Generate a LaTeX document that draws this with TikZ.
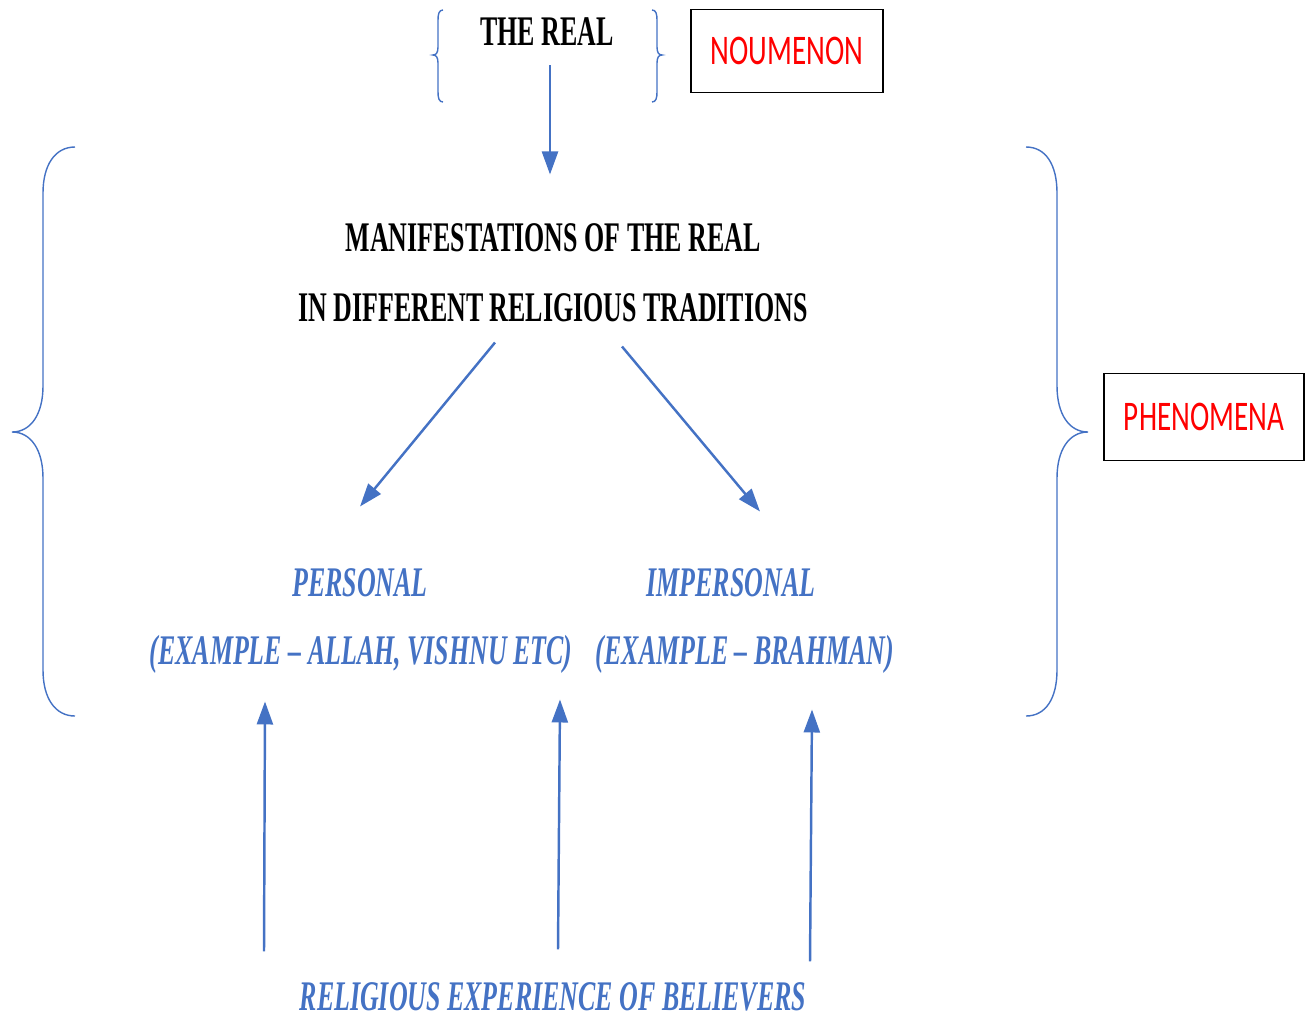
\documentclass[tikz,border=0pt]{standalone}
\usepackage{fontspec}
\setmainfont{Liberation Serif}
\newfontfamily\narrowserif[FakeStretch=0.615,Ligatures=TeX]{Liberation Serif}
\newfontfamily\narrowsans[FakeStretch=0.69]{Carlito}
\usepackage{tikz}
\usetikzlibrary{calc}
\usetikzlibrary{arrows.meta}
\usepackage{xcolor}
\definecolor{wordblue}{HTML}{4472C4}
\definecolor{wordred}{HTML}{FF0000}

\begin{document}
\begin{tikzpicture}[x=0.02cm,y=-0.02cm,
title/.style={font=\narrowserif\bfseries\fontsize{24}{28}\selectfont,inner sep=0pt},
form/.style={font=\narrowserif\bfseries\itshape\fontsize{24}{28}\selectfont,text=wordblue,inner sep=0pt},
realm/.style={draw=black,line width=1.1pt,font=\narrowsans\fontsize{24}{28}\selectfont,text=wordred},
arrow/.style={draw=wordblue,line width=1.4pt,-{Triangle[length=0.46cm,width=0.32cm]}},
brace/.style={draw=wordblue,line width=0.8pt}]
%\draw[help lines] (0,0) grid[step=100] (1311,1018);
\useasboundingbox (0,0) rectangle (1311,1018);

\node[title] (real) at (547,32) {THE REAL};
\node[realm,minimum width=3.84cm,minimum height=1.66cm] (noumenon) at (787,51) {NOUMENON};

\node[title] (manif1) at (553,238) {MANIFESTATIONS OF THE REAL};
\node[title] (manif2) at (553,308) {IN DIFFERENT RELIGIOUS TRADITIONS};
\node[realm,minimum width=4cm,minimum height=1.74cm] (phenomena) at (1204,417) {PHENOMENA};

\node[form] (personal) at (360,583) {PERSONAL};
\node[form] (impersonal) at (731,583) {IMPERSONAL};
\node[form] (ex1) at (361,654) {(EXAMPLE – ALLAH, VISHNU ETC)};
\node[form] (ex2) at (745,654) {(EXAMPLE – BRAHMAN)};

\node[form] (exp) at (553,997) {RELIGIOUS EXPERIENCE OF BELIEVERS};

% small brace round the real
\draw[brace] (443,10) .. controls (439,10) and (438,14) .. (438,20) -- (438,47)
  .. controls (438,53) and (436,55) .. (433,55) .. controls (436,55) and (438,57) .. (438,63)
  -- (438,92) .. controls (438,98) and (439,102) .. (443,102);
\draw[brace] (652,10) .. controls (656,10) and (657,14) .. (657,20) -- (657,47)
  .. controls (657,53) and (659,55) .. (662,55) .. controls (659,55) and (657,57) .. (657,63)
  -- (657,92) .. controls (657,98) and (656,102) .. (652,102);

% big braces round the phenomena
\draw[brace] (75,147) .. controls (55,147) and (43,165) .. (43,193) -- (43,386)
  .. controls (43,414) and (31,432) .. (12,432) .. controls (31,432) and (43,450) .. (43,478)
  -- (43,670) .. controls (43,698) and (55,716) .. (75,716);
\draw[brace] (1026,147) .. controls (1046,147) and (1057,165) .. (1057,193) -- (1057,386)
  .. controls (1057,414) and (1069,432) .. (1088,432) .. controls (1069,432) and (1057,450) .. (1057,478)
  -- (1057,670) .. controls (1057,698) and (1046,716) .. (1026,716);

\draw[arrow] ($(real.south)+(3,19)$) -- ($(manif1.north)+(-3,-49)$);
\draw[arrow] ($(manif2.south)+(-58,20)$) -- ($(personal.north)+(0,-62)$);
\draw[arrow] ($(manif2.south)+(69,24)$) -- ($(impersonal.north)+(29,-57)$);

\draw[arrow] ($(exp.north)+(-289,-31)$) -- ($(ex1.south)+(-96,28)$);
\draw[arrow] ($(exp.north)+(5,-33)$) -- ($(ex1.south)+(199,26)$);
\draw[arrow] ($(exp.north)+(257,-21)$) -- ($(ex2.south)+(67,36)$);
\end{tikzpicture}
\end{document}
